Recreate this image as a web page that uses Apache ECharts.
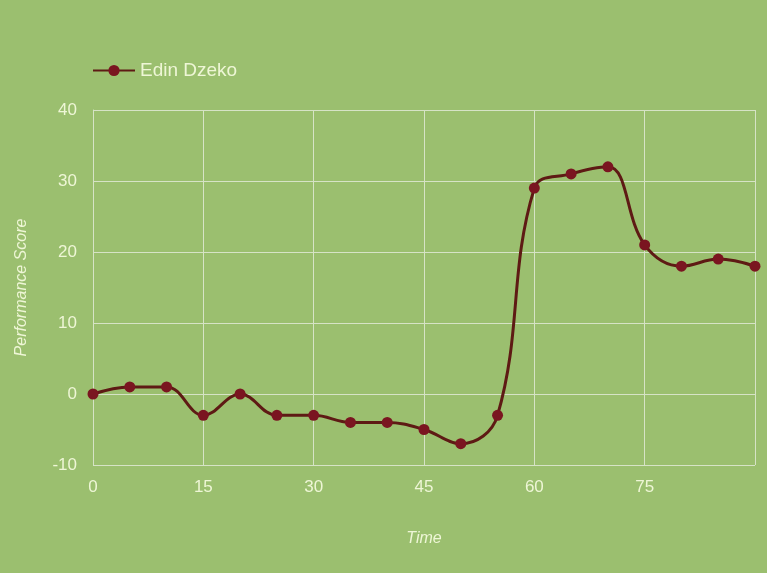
<!DOCTYPE html>
<html>
<head>
<meta charset="utf-8">
<script src="https://cdn.jsdelivr.net/npm/echarts@6/dist/echarts.min.js"></script>
<style>
  html, body { margin: 0; padding: 0; background: #9bbf6f; }
  #chart { width: 767px; height: 573px; }
</style>
</head>
<body>
<div id="chart"></div>
<script>
const seriesName = 'Edin Dzeko'
const timeValues = [0, 5, 10, 15, 20, 25, 30, 35, 40, 45, 50, 55, 60, 65, 70, 75, 80, 85, 90]
const scoreValues = [0, 1, 1, -3, 0, -3, -3, -4, -4, -5, -7, -3, 29, 31, 32, 21, 18, 19, 18]

const textColor = '#eef6d6'
const gridColor = '#d6e3c6'

let myChart = echarts.init(document.getElementById('chart'))
let option = {
  backgroundColor: '#9bbf6f',
  textStyle: {
    fontFamily: 'Liberation Sans, Arial, sans-serif'
  },
  legend: {
    left: 87,
    top: 56,
    itemWidth: 42,
    itemHeight: 14,
    itemGap: 10,
    textStyle: {
      color: textColor,
      fontSize: 19
    },
    data: [seriesName]
  },
  grid: {
    left: 93,
    right: 12,
    top: 110,
    bottom: 108
  },
  xAxis: {
    type: 'value',
    min: 0,
    max: 90,
    interval: 15,
    name: 'Time',
    nameLocation: 'middle',
    nameGap: 66,
    nameTextStyle: {
      color: textColor,
      fontSize: 16,
      fontStyle: 'italic'
    },
    axisLine: { show: true, lineStyle: { color: gridColor } },
    axisTick: { show: false },
    axisLabel: {
      color: textColor,
      fontSize: 17,
      margin: 14,
      showMaxLabel: false
    },
    splitLine: { show: true, lineStyle: { color: gridColor, width: 1 } }
  },
  yAxis: {
    type: 'value',
    min: -10,
    max: 40,
    interval: 10,
    name: 'Performance Score',
    nameLocation: 'middle',
    nameGap: 63,
    nameTextStyle: {
      color: textColor,
      fontSize: 16,
      fontStyle: 'italic'
    },
    axisLine: { show: true, lineStyle: { color: gridColor } },
    axisTick: { show: false },
    axisLabel: {
      color: textColor,
      fontSize: 17,
      margin: 16
    },
    splitLine: { show: true, lineStyle: { color: gridColor, width: 1 } }
  },
  series: [{
    name: seriesName,
    type: 'line',
    smooth: 0.4,
    symbol: 'circle',
    symbolSize: 11,
    data: timeValues.map((t, i) => [t, scoreValues[i]]),
    lineStyle: { color: '#5e1a14', width: 3 },
    itemStyle: { color: '#7a1520' }
  }]
}
myChart.setOption(option)
</script>
</body>
</html>
